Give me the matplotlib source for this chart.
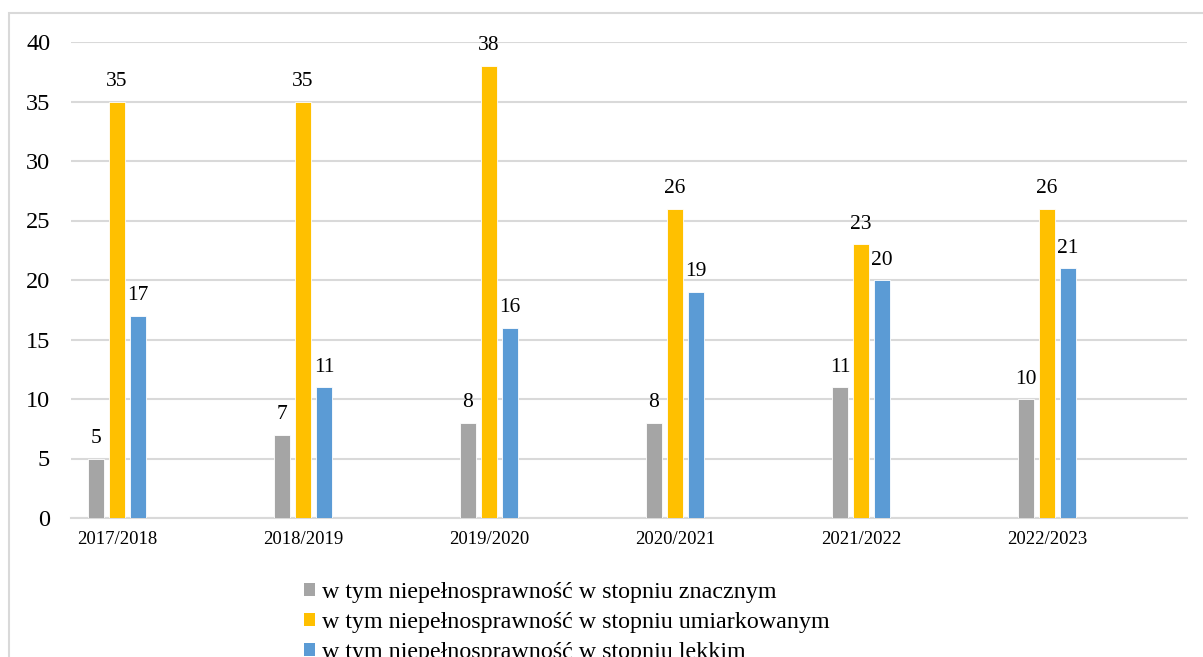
import matplotlib
matplotlib.use('Agg')
import matplotlib.pyplot as plt
from matplotlib.patches import Rectangle, Patch
import numpy as np

# ---- data ----
years = ['2017/2018', '2018/2019', '2019/2020', '2020/2021', '2021/2022', '2022/2023']
znaczny = [5, 7, 8, 8, 11, 10]
umiarkowany = [35, 35, 38, 26, 23, 26]
lekki = [17, 11, 16, 19, 20, 21]

labels = ['w tym niepełnosprawność w stopniu znacznym',
          'w tym niepełnosprawność w stopniu umiarkowanym',
          'w tym niepełnosprawność w stopniu lekkim']
colors = ['#A5A5A5', '#FFC000', '#5B9BD5']

plt.rcParams['font.family'] = ['Liberation Serif', 'DejaVu Serif']

W, H = 1203, 657
fig = plt.figure(figsize=(W / 100, H / 100), dpi=100)

# outer chart frame (cut off at right and bottom like the source)
fig.patches.append(Rectangle((9 / W, -0.1), 1.5, 1.1 - 13 / H,
                             transform=fig.transFigure, fill=False,
                             edgecolor='#D9D9D9', linewidth=1.5))

ax = fig.add_axes([71 / W, 1 - 518 / H, 1116 / W, 476 / H])

x = np.arange(len(years))
step = 21 / 186
width = 16 / 186
series = [znaczny, umiarkowany, lekki]
for i, (vals, col) in enumerate(zip(series, colors)):
    pos = x + (i - 1) * step
    bars = ax.bar(pos, vals, width=width, color=col, edgecolor='white',
                  linewidth=0.6, zorder=3)
    for b, v in zip(bars, vals):
        ax.annotate(str(v), (b.get_x() + b.get_width() / 2, v),
                    xytext=(0, 7.5), textcoords='offset points',
                    ha='center', va='bottom', fontsize=15.5)

ax.set_xlim((71 - 117) / 186, (1187 - 117) / 186)
ax.set_ylim(0, 40)
ax.set_yticks(range(0, 41, 5))
ax.set_xticks(x)
ax.set_xticklabels(years, fontsize=13.5)
ax.tick_params(axis='y', labelsize=17.5, length=0, pad=15)
ax.tick_params(axis='x', length=0, pad=9)
ax.grid(axis='y', color='#D9D9D9', linewidth=1.5, zorder=0)
for s in ['top', 'right', 'left']:
    ax.spines[s].set_visible(False)
ax.spines['bottom'].set_color('#D9D9D9')
ax.spines['bottom'].set_linewidth(1.5)

handles = [Patch(facecolor=c, edgecolor='none') for c in colors]
fig.legend(handles, labels, loc='upper left',
           bbox_to_anchor=(304 / W, 1 - 582 / H), frameon=False,
           fontsize=17.3, handlelength=0.45, handleheight=0.45,
           handletextpad=0.28, labelspacing=0.38, borderpad=0,
           borderaxespad=0)

fig.savefig('out.png', dpi=100)
